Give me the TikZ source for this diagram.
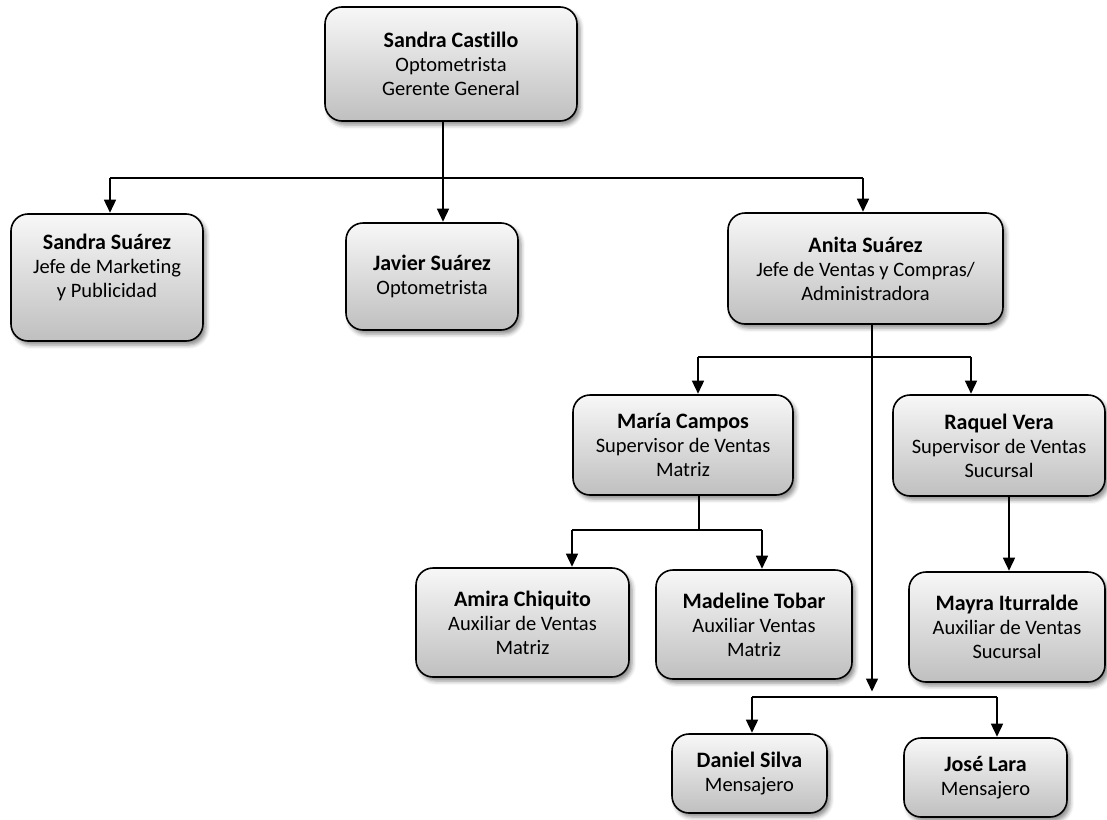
\documentclass[tikz,border=0pt]{standalone}
\usepackage{fontspec}
\setmainfont{Carlito}[Ligatures=NoCommon]
\usetikzlibrary{arrows.meta,shadows.blur}

\tikzset{
  orgbox/.style={rectangle, rounded corners=17pt, draw=black, line width=1.6pt,
    top color=black!3, bottom color=black!25, inner sep=0pt, align=center,
    font=\fontsize{20.5}{24}\selectfont,
    blur shadow={shadow xshift=3pt, shadow yshift=-4pt, shadow blur radius=4pt,
      shadow opacity=45}},
  link/.style={draw=black, line width=1.5pt},
  arrowlink/.style={link, -{Triangle[width=12pt,length=13pt]}, shorten >=0.5pt}
}
\newcommand{\who}[1]{{\fontsize{22}{24}\selectfont\bfseries #1}}

\begin{document}
\begin{tikzpicture}[x=1pt,y=-1pt]
\useasboundingbox (0,0) rectangle (1107,819);

% boxes
\node[orgbox, minimum width=252pt, minimum height=114pt] (castillo) at (451,64)
  {\who{Sandra Castillo}\\Optometrista\\Gerente General};
\node[orgbox, minimum width=192pt, minimum height=127pt] (ssuarez) at (107,277.5)
  {\who{Sandra Suárez}\\Jefe de Marketing\\y Publicidad\\\mbox{}};
\node[orgbox, minimum width=172pt, minimum height=107pt] (javier) at (432,276.5)
  {\who{Javier Suárez}\\Optometrista};
\node[orgbox, minimum width=275pt, minimum height=111pt] (anita) at (865.5,268.5)
  {\who{Anita Suárez}\\Jefe de Ventas y Compras/\\Administradora};
\node[orgbox, minimum width=220pt, minimum height=100pt] (maria) at (683,445)
  {\who{María Campos}\\Supervisor de Ventas\\Matriz};
\node[orgbox, minimum width=212pt, minimum height=101pt] (raquel) at (999,445.5)
  {\who{Raquel Vera}\\Supervisor de Ventas\\Sucursal};
\node[orgbox, minimum width=213pt, minimum height=109pt] (amira) at (522.5,622.5)
  {\who{Amira Chiquito}\\Auxiliar de Ventas\\Matriz};
\node[orgbox, minimum width=196pt, minimum height=109pt] (madeline) at (754,624.5)
  {\who{Madeline Tobar}\\Auxiliar Ventas\\Matriz};
\node[orgbox, minimum width=196pt, minimum height=110pt] (mayra) at (1007,627)
  {\who{Mayra Iturralde}\\Auxiliar de Ventas\\Sucursal};
\node[orgbox, minimum width=155pt, minimum height=79pt] (daniel) at (749.5,773.5)
  {\who{Daniel Silva}\\Mensajero};
\node[orgbox, minimum width=163pt, minimum height=79pt] (jose) at (985.5,777.5)
  {\who{José Lara}\\Mensajero};

% junction points of the buses
\coordinate (topmid) at (443,178);
\coordinate (topl) at (110,178);
\coordinate (topr) at (863,178);
\coordinate (vmid) at (872,357);
\coordinate (vl) at (698,357);
\coordinate (vr) at (971,357);
\coordinate (mmid) at (699,530);
\coordinate (ml) at (572,530);
\coordinate (mr) at (762,530);
\coordinate (msg) at (872,692);
\coordinate (sl) at (752,697);
\coordinate (sr) at (997,697);
\coordinate (rq) at (1009,0);

% general manager
\draw[link] (castillo.south -| topmid) -- (topmid);
\draw[link] (topl) -- (topr);
\draw[arrowlink] (topl) -- (topl |- ssuarez.north);
\draw[arrowlink] (topmid) -- (topmid |- javier.north);
\draw[arrowlink] (topr) -- (topr |- anita.north);

% sales and purchasing
\draw[arrowlink] (anita.south -| vmid) -- (msg);
\draw[link] (vl) -- (vr);
\draw[arrowlink] (vl) -- (vl |- maria.north);
\draw[arrowlink] (vr) -- (vr |- raquel.north);

% main store
\draw[link] (maria.south -| mmid) -- (mmid);
\draw[link] (ml) -- (mr);
\draw[arrowlink] (ml) -- (ml |- amira.north);
\draw[arrowlink] (mr) -- (mr |- madeline.north);

% branch
\draw[arrowlink] (raquel.south -| rq) -- (mayra.north -| rq);

% messengers
\draw[link] (sl) -- (sr);
\draw[arrowlink] (sl) -- (sl |- daniel.north);
\draw[arrowlink] (sr) -- (sr |- jose.north);
\end{tikzpicture}
\end{document}
